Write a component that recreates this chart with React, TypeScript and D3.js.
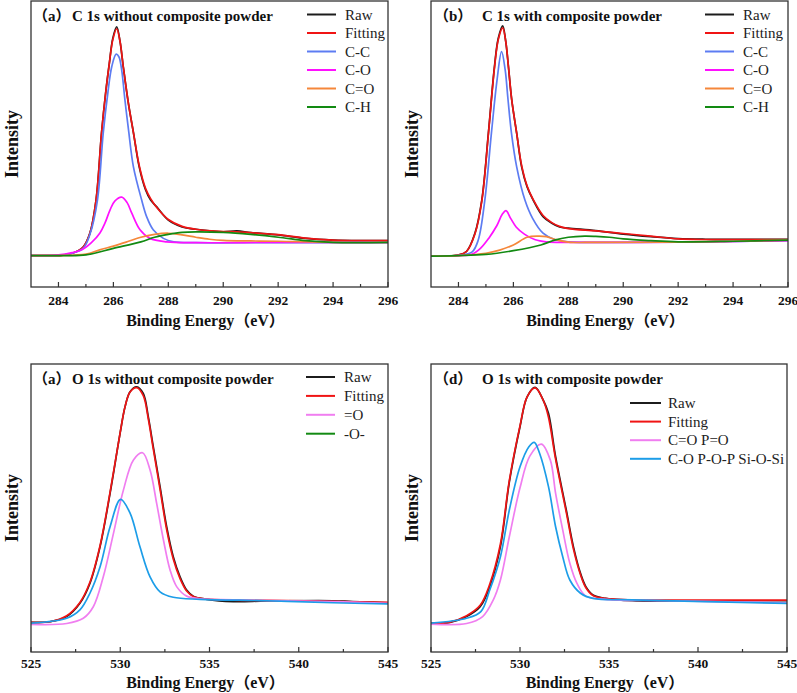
import React from 'react';
import * as d3 from 'd3';

type Pt = [number, number];

// ---------- tick values ----------
const c1sTicks = [284, 286, 288, 290, 292, 294, 296];
const c1sMinor = [285, 287, 289, 291, 293, 295];
const o1sTicks = [525, 530, 535, 540, 545];
const o1sMinor = [527.5, 532.5, 537.5, 542.5];

// ---------- (a) C 1s without composite powder ----------
const aRaw: Pt[] = [[283,11],[283.5,11],[284,11],[284.5,11.8],[284.9,14],[285.15,19],[285.37,30.5],[285.57,54],[285.72,68],[285.85,78],[285.98,87],[286.12,91],[286.24,86],[286.36,77],[286.55,64],[286.73,54],[286.94,42],[287.17,34],[287.35,30.5],[287.58,28],[288,23.4],[288.5,21],[289,20.2],[290,19.3],[290.5,19.6],[291,19],[292,18.2],[293,17],[294,16.4],[295,16.2],[296,16.2]];
const aFit: Pt[] = [[283,11],[283.5,11],[284,11],[284.5,11.8],[284.9,14],[285.15,19],[285.37,30.5],[285.57,54],[285.72,68],[285.85,78],[285.98,86.5],[286.12,90.3],[286.24,86],[286.36,77],[286.55,64],[286.73,54],[286.94,42.5],[287.17,34.5],[287.35,31],[287.58,27.8],[288,23.6],[288.5,21.2],[289,20.2],[290,19.4],[290.5,19.3],[291,19],[292,18.3],[293,17.1],[294,16.4],[295,16.2],[296,16.2]];
const aCC: Pt[] = [[283,11],[284,11],[284.5,11.8],[284.9,13.5],[285.15,18.5],[285.42,30.4],[285.63,53.8],[285.8,68],[285.94,77],[286.1,81.4],[286.2,80.5],[286.3,76],[286.42,65.4],[286.55,55],[286.73,42],[287.03,30.4],[287.21,24.6],[287.45,20],[287.82,17],[288.2,15.8],[289,15.5],[292,15.5],[296,15.5]];
const aCO: Pt[] = [[283,11],[284,11.2],[284.5,12],[284.85,13],[285.2,15.5],[285.51,18.9],[285.7,22.5],[285.88,27],[286.05,30],[286.3,31.4],[286.5,29.5],[286.67,25.8],[286.97,20],[287.33,17],[287.94,15.8],[289,15.5],[292,15.6],[296,15.6]];
const aCEO: Pt[] = [[283,11],[284,11],[285,11.5],[285.5,13],[286,14.3],[286.5,15.8],[287,17.4],[287.5,18.4],[288,18.8],[288.5,18.2],[289,17.4],[289.5,16.7],[290,16.3],[291,16.1],[292,16],[294,15.6],[296,15.6]];
const aCH: Pt[] = [[283,11],[284,11],[285,11.2],[286,13.5],[287,15.8],[287.5,17.4],[288,18.4],[288.5,19.1],[289,19.3],[290,19.1],[291,18.4],[292,17.4],[293,16.2],[294,15.6],[296,15.6]];

// ---------- (b) C 1s with composite powder ----------
const bRaw: Pt[] = [[283,10.8],[283.5,10.9],[284,11.2],[284.3,12.5],[284.6,18.8],[284.85,30.4],[285.09,53.8],[285.31,77],[285.45,87],[285.61,91.3],[285.72,86],[285.82,77],[285.94,65.4],[286.12,53.8],[286.3,42],[286.5,35],[286.72,30.4],[287.08,24.6],[287.4,22.3],[287.68,21],[288,20.6],[289,19.7],[290,18.5],[291,17.6],[292,16.9],[293,16.7],[294,16.7],[296,16.7]];
const bFit: Pt[] = [[283,10.8],[283.5,10.9],[284,11.2],[284.3,12.5],[284.6,18.5],[284.85,30],[285.09,53.5],[285.31,76.5],[285.45,86.5],[285.61,90.6],[285.72,86],[285.82,77],[285.94,65.4],[286.12,53.8],[286.3,42.5],[286.5,35.3],[286.72,30.6],[287.08,25],[287.4,22.5],[287.68,21.2],[288,20.4],[289,19.6],[290,18.7],[291,17.8],[292,16.8],[293,16.6],[294,16.6],[296,16.6]];
const bCC: Pt[] = [[283,10.8],[284,11],[284.5,12.3],[284.72,16.4],[284.96,30.4],[285.2,53.8],[285.4,72],[285.57,82.3],[285.7,76],[285.8,66],[285.93,53.8],[286.12,42],[286.42,30.4],[286.7,24],[287.08,18.8],[287.5,16.6],[288,15.8],[290,15.6],[293,15.8],[296,16.2]];
const bCO: Pt[] = [[283,10.8],[284,11],[284.5,11.5],[284.8,13.5],[285.1,17],[285.4,21.5],[285.6,25.5],[285.73,26.7],[285.9,24],[286.1,21],[286.4,18.5],[286.8,16.5],[287.2,15.8],[288,15.6],[292,15.7],[296,16.2]];
const bCEO: Pt[] = [[283,10.8],[284,11],[285,11.8],[285.5,12.9],[286,14.7],[286.5,17.4],[286.9,17.8],[287.2,17.6],[287.5,16.7],[288,15.7],[289,15.6],[292,15.7],[296,16.4]];
const bCH: Pt[] = [[283,10.8],[285,11.4],[286,12.7],[287,14.7],[287.5,16.4],[288,17.4],[288.6,17.8],[289,17.7],[289.5,17.4],[290,16.8],[291,16.2],[292,15.8],[294,16],[296,16.4]];

// ---------- (c) O 1s without composite powder ----------
const cRaw: Pt[] = [[525,10.3],[526.06,10.5],[527,12.3],[527.74,16.9],[528.3,23.8],[528.87,36.6],[529.43,55.1],[529.99,75.9],[530.27,85.2],[530.55,90.4],[530.92,92.1],[531.29,89.8],[531.57,81.7],[531.85,71.3],[532.23,57.4],[532.6,43.5],[532.97,33.1],[533.35,26.1],[533.72,21.5],[534.09,19.4],[534.84,18.3],[536.33,17.5],[538.2,17.7],[541.9,17.8],[543,17.5],[545,17.1]];
const cFit: Pt[] = [[525,10.3],[526.06,10.5],[527,12.6],[527.74,17.2],[528.3,24.2],[528.87,37],[529.43,55.5],[529.99,76],[530.27,85.2],[530.55,90.3],[530.92,91.8],[531.29,89],[531.57,81],[531.85,70.5],[532.23,56.5],[532.6,42.5],[532.97,32.3],[533.35,25.5],[533.72,21.2],[534.09,19.3],[534.84,18.4],[536.33,18],[538.2,17.9],[541.9,17.6],[545,17.2]];
const cPink: Pt[] = [[525,9.6],[527,9.9],[527.93,11.7],[528.49,15.7],[529.05,26.1],[529.62,41.2],[530.18,56.3],[530.74,66.7],[531.25,69.2],[531.67,63.2],[532.04,51.6],[532.42,38.9],[532.79,28.5],[533.16,22.7],[533.72,19.4],[534.47,18.5],[536.33,18.1],[541.9,17.5],[545,16.9]];
const cBlue: Pt[] = [[525,10],[527,11.7],[527.74,14.6],[528.3,20.4],[528.87,29.6],[529.43,43.5],[530.02,53],[530.55,48.2],[531.1,36.6],[531.67,26.1],[532.23,20.9],[532.97,19],[534.47,18.3],[538.2,17.8],[541.9,17.1],[545,16.7]];

// ---------- (d) O 1s with composite powder ----------
const dRaw: Pt[] = [[525,10],[526.07,10.3],[527,12.3],[527.76,15.7],[528.3,22.7],[528.9,36.6],[529.4,59],[530,78.2],[530.4,88.6],[530.85,91.9],[531.3,87.5],[531.6,82.9],[532,67.8],[532.6,49.3],[533,36.6],[533.4,27.3],[533.7,22.7],[534.1,19.8],[534.8,18.6],[536.3,17.8],[540,17.8],[545,17.8]];
const dFit: Pt[] = [[525,10],[526.07,10.4],[527,12.6],[527.76,16.2],[528.3,23.5],[528.9,37.5],[529.4,59.5],[530,78.5],[530.4,88.6],[530.85,91.7],[531.3,87.5],[531.6,81.5],[532,67],[532.6,48.5],[533,35.8],[533.4,26.8],[533.7,22.3],[534.1,19.6],[534.8,18.6],[536.3,18.1],[540,18],[545,18]];
const dPink: Pt[] = [[525,9.7],[527,9.9],[527.9,12.3],[528.5,18.1],[528.9,25],[529.4,40],[530,57],[530.55,68],[531.2,72.2],[531.7,66.7],[532,55.1],[532.4,42.4],[532.8,30.8],[533.2,23.8],[533.7,19.4],[534.8,18.3],[538.2,17.8],[545,17.1]];
const dBlue: Pt[] = [[525,10],[527,11.7],[527.8,14],[528.3,21.5],[528.9,33.1],[529.4,49.3],[530,64.3],[530.5,71.3],[530.8,72.8],[531.1,69],[531.6,57.4],[532,43.5],[532.4,33.1],[532.8,25],[533.4,20.4],[534.1,18.6],[536.3,18.1],[545,16.9]];

// ---------- legend labels ----------
const c1sLegend = ['Raw', 'Fitting', 'C-C', 'C-O', 'C=O', 'C-H'];
const o1sALegend = ['Raw', 'Fitting', '=O', '-O-'];
const o1sBLegend = ['Raw', 'Fitting', 'C=O P=O', 'C-O P-O-P Si-O-Si'];

// ---------- styles ----------
const COL = {
  raw: '#1c1c1c',
  fit: '#f01414',
  cc: '#5d7cf2',
  co: '#ff10ff',
  ceo: '#f5873a',
  ch: '#128a12',
  pink: '#f07ef0',
  blue: '#1c9de8',
  green: '#138a13',
};
const SERIF = "'Liberation Serif','Times New Roman','Noto Sans CJK SC',serif";

interface Panel {
  x0: number; x1: number; y0: number; y1: number;
  domain: [number, number];
  ticks: number[]; minor: number[];
  series: { data: Pt[]; color: string }[];
  legend: { label: string; color: string }[];
  lg: { lx0: number; lx1: number; tx: number; ty: number; dy: number };
  prefix: string; prefixX: number; body: string; bodyX: number;
  tickDy: number; titleDy: number;
}

const panels: Panel[] = [
  {
    x0: 31, x1: 388, y0: 1, y1: 287, domain: [283, 296], ticks: c1sTicks, minor: c1sMinor,
    series: [
      { data: aRaw, color: COL.raw }, { data: aFit, color: COL.fit }, { data: aCC, color: COL.cc },
      { data: aCO, color: COL.co }, { data: aCEO, color: COL.ceo }, { data: aCH, color: COL.ch },
    ],
    legend: c1sLegend.map((l, i) => ({ label: l, color: [COL.raw, COL.fit, COL.cc, COL.co, COL.ceo, COL.ch][i] })),
    lg: { lx0: 307, lx1: 336, tx: 345, ty: 14.5, dy: 18.5 },
    prefix: '（a）', prefixX: 33, body: 'C 1s without composite powder', bodyX: 72,
    tickDy: 18, titleDy: 39,
  },
  {
    x0: 431, x1: 788, y0: 1, y1: 287, domain: [283, 296], ticks: c1sTicks, minor: c1sMinor,
    series: [
      { data: bRaw, color: COL.raw }, { data: bFit, color: COL.fit }, { data: bCC, color: COL.cc },
      { data: bCO, color: COL.co }, { data: bCEO, color: COL.ceo }, { data: bCH, color: COL.ch },
    ],
    legend: c1sLegend.map((l, i) => ({ label: l, color: [COL.raw, COL.fit, COL.cc, COL.co, COL.ceo, COL.ch][i] })),
    lg: { lx0: 705, lx1: 734, tx: 743, ty: 14.5, dy: 18.5 },
    prefix: '（b）', prefixX: 434, body: 'C 1s with composite powder', bodyX: 482,
    tickDy: 18, titleDy: 39,
  },
  {
    x0: 31, x1: 388, y0: 364, y1: 652, domain: [525, 545], ticks: o1sTicks, minor: o1sMinor,
    series: [
      { data: cRaw, color: COL.raw }, { data: cFit, color: COL.fit },
      { data: cPink, color: COL.pink }, { data: cBlue, color: COL.blue },
    ],
    legend: o1sALegend.map((l, i) => ({ label: l, color: [COL.raw, COL.fit, COL.pink, COL.green][i] })),
    lg: { lx0: 306, lx1: 335, tx: 344, ty: 377, dy: 18.9 },
    prefix: '（a）', prefixX: 33, body: 'O 1s without composite powder', bodyX: 72,
    tickDy: 15.5, titleDy: 36,
  },
  {
    x0: 431, x1: 787, y0: 364, y1: 652, domain: [525, 545], ticks: o1sTicks, minor: o1sMinor,
    series: [
      { data: dRaw, color: COL.raw }, { data: dFit, color: COL.fit },
      { data: dPink, color: COL.pink }, { data: dBlue, color: COL.blue },
    ],
    legend: o1sBLegend.map((l, i) => ({ label: l, color: [COL.raw, COL.fit, COL.pink, COL.blue][i] })),
    lg: { lx0: 630, lx1: 661, tx: 668, ty: 403, dy: 18.6 },
    prefix: '（d）', prefixX: 434, body: 'O 1s with composite powder', bodyX: 482,
    tickDy: 15.5, titleDy: 36,
  },
];

function PanelView({ p }: { p: Panel }) {
  const x = d3.scaleLinear().domain(p.domain).range([p.x0, p.x1]);
  const y = d3.scaleLinear().domain([0, 100]).range([p.y1, p.y0]);
  const line = d3.line<Pt>().x(d => x(d[0])).y(d => y(d[1])).curve(d3.curveCatmullRom.alpha(0.5));
  const cx = (p.x0 + p.x1) / 2 - 4;
  const cy = (p.y0 + p.y1) / 2;
  return (
    <g>
      <defs>
        <clipPath id={`clip-${p.x0}-${p.y0}`}>
          <rect x={p.x0} y={p.y0} width={p.x1 - p.x0} height={p.y1 - p.y0} />
        </clipPath>
      </defs>
      <g clipPath={`url(#clip-${p.x0}-${p.y0})`}>
        {p.series.map((s, i) => (
          <path key={i} d={line(s.data) || ''} fill="none" stroke={s.color} strokeWidth={1.7} strokeLinejoin="round" />
        ))}
      </g>
      <rect x={p.x0} y={p.y0} width={p.x1 - p.x0} height={p.y1 - p.y0} fill="none" stroke="#333" strokeWidth={1.3} />
      {p.ticks.map(t => (
        <g key={'t' + t}>
          <line x1={x(t)} x2={x(t)} y1={p.y1} y2={p.y1 - 5} stroke="#333" strokeWidth={1.2} />
          <text x={x(t)} y={p.y1 + p.tickDy} textAnchor="middle" fontFamily={SERIF} fontWeight="bold" fontSize={13.5} fill="#111">{t}</text>
        </g>
      ))}
      {p.minor.map(t => (
        <line key={'m' + t} x1={x(t)} x2={x(t)} y1={p.y1} y2={p.y1 - 3} stroke="#333" strokeWidth={1.2} />
      ))}
      <text x={cx} y={p.y1 + p.titleDy} textAnchor="middle" fontFamily={SERIF} fontWeight="bold" fontSize={16} fill="#111">Binding Energy（eV）</text>
      <text transform={`translate(${p.x0 - 13},${cy}) rotate(-90)`} textAnchor="middle" fontFamily={SERIF} fontWeight="bold" fontSize={18} fill="#111">Intensity</text>
      <text x={p.prefixX} y={p.y0 + 20} fontFamily={SERIF} fontWeight="bold" fontSize={15} fill="#111">{p.prefix}</text>
      <text x={p.bodyX} y={p.y0 + 20} fontFamily={SERIF} fontWeight="bold" fontSize={15} fill="#111">{p.body}</text>
      {p.legend.map((l, i) => (
        <g key={'l' + i}>
          <line x1={p.lg.lx0} x2={p.lg.lx1} y1={p.lg.ty + i * p.lg.dy} y2={p.lg.ty + i * p.lg.dy} stroke={l.color} strokeWidth={2} />
          <text x={p.lg.tx} y={p.lg.ty + i * p.lg.dy + 5} fontFamily={SERIF} fontSize={15} fill="#222">{l.label}</text>
        </g>
      ))}
    </g>
  );
}

export default function App() {
  return (
    <svg width={797} height={693} style={{ position: 'absolute', left: 0, top: 0, background: '#fff' }}>
      <rect width={797} height={693} fill="#fff" />
      {panels.map((p, i) => <PanelView key={i} p={p} />)}
    </svg>
  );
}
